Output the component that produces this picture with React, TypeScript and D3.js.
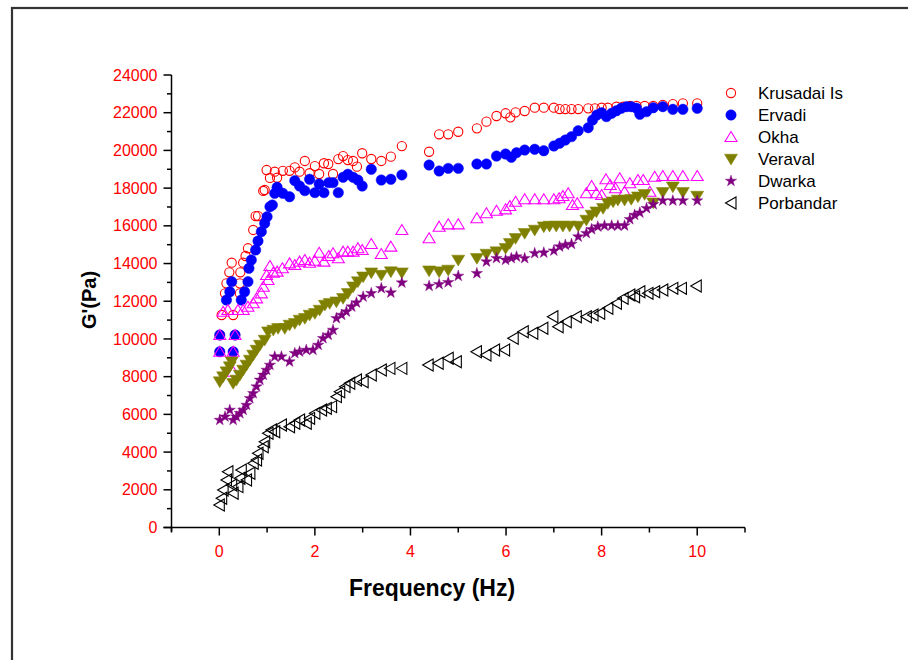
import React from "react";
import * as d3 from "d3";

// ---------- DATA (frequency in Hz, G' in Pa) ----------
const xTicks = [0, 2, 4, 6, 8, 10];
const yTicks = [0, 2000, 4000, 6000, 8000, 10000, 12000, 14000, 16000, 18000, 20000, 22000, 24000];
const seriesNames = ["Krusadai Is", "Ervadi", "Okha", "Veraval", "Dwarka", "Porbandar"];

const krusadai: [number, number][] = [
  [0.01, 9320], [0.01, 10210], [0.05, 11270], [0.12, 12420], [0.15, 12950], [0.21, 13535], [0.26, 14045],
  [0.29, 9320], [0.33, 10210], [0.29, 11270], [0.43, 12420], [0.43, 12950], [0.44, 13535], [0.5, 14045],
  [0.55, 14400], [0.6, 14810], [0.71, 15780], [0.76, 16520], [0.81, 16520], [0.92, 17850], [0.95, 17900],
  [0.99, 18960], [1.06, 18540], [1.16, 18870], [1.21, 18550], [1.33, 18920], [1.47, 18920], [1.58, 19100],
  [1.68, 18870], [1.79, 19440], [1.89, 18790], [2.0, 19170], [2.09, 18750], [2.19, 19320], [2.28, 19280],
  [2.38, 18750], [2.49, 19540], [2.59, 19700], [2.69, 19490], [2.8, 19440], [2.88, 19140], [2.99, 19850],
  [3.18, 19545], [3.39, 19440], [3.59, 19670], [3.82, 20230],
  [4.39, 19930], [4.6, 20855], [4.79, 20855], [5.0, 20990], [5.39, 21170], [5.59, 21525], [5.8, 21825],
  [5.99, 21970], [6.09, 21755], [6.2, 22020], [6.39, 22090], [6.6, 22265], [6.79, 22265], [7.0, 22265],
  [7.12, 22195], [7.24, 22195], [7.37, 22195], [7.51, 22195], [7.72, 22230], [7.86, 22230], [8.0, 22265],
  [8.13, 22265], [8.31, 22320], [8.45, 22320], [8.59, 22355], [8.73, 22355], [8.9, 22355], [9.08, 22355],
  [9.28, 22410], [9.49, 22460], [9.7, 22500], [10.0, 22500],
];

const ervadi: [number, number][] = [
  [0.01, 9320], [0.01, 10210], [0.15, 12065], [0.22, 12505], [0.26, 13040], [0.29, 9320], [0.33, 10210],
  [0.46, 12065], [0.53, 12505], [0.6, 13040], [0.62, 13750], [0.67, 14190], [0.76, 14720], [0.81, 15195],
  [0.88, 15690], [0.95, 16135], [1.0, 16485], [1.06, 17015], [1.11, 17105], [1.16, 17725], [1.21, 18045],
  [1.33, 17725], [1.47, 17545], [1.58, 18395], [1.68, 18110], [1.79, 17865], [1.89, 18470], [2.0, 17760],
  [2.09, 18220], [2.19, 17760], [2.29, 18290], [2.38, 18290], [2.49, 17760], [2.59, 18575], [2.69, 18735],
  [2.8, 18575], [2.9, 18430], [2.99, 18110], [3.18, 19000], [3.39, 18430], [3.59, 18470], [3.82, 18700],
  [4.39, 19225], [4.6, 18910], [4.79, 19050], [5.0, 19050], [5.39, 19280], [5.59, 19280], [5.8, 19700],
  [5.99, 19810], [6.11, 19635], [6.22, 19880], [6.39, 20020], [6.6, 20060], [6.79, 19985], [7.0, 20235],
  [7.12, 20380], [7.24, 20550], [7.37, 20730], [7.51, 21045], [7.72, 21205], [7.81, 21610], [7.9, 21880],
  [8.0, 22000], [8.1, 21790], [8.21, 21970], [8.31, 22105], [8.41, 22235], [8.52, 22320], [8.62, 22320],
  [8.73, 22235], [8.8, 21915], [8.94, 22055], [9.08, 22265], [9.28, 22320], [9.49, 22180], [9.7, 22180],
  [10.0, 22235],
];

const okha: [number, number][] = [
  [0.01, 9320], [0.01, 10210], [0.29, 9320], [0.33, 10210], [0.29, 8260], [0.08, 11445], [0.18, 11535],
  [0.39, 11535], [0.5, 11535], [0.6, 11710], [0.71, 11890], [0.78, 12155], [0.88, 12420], [0.92, 12770],
  [1.02, 13125], [0.99, 13390], [1.06, 13870], [1.13, 13515], [1.21, 13570], [1.32, 13750], [1.47, 14010],
  [1.58, 13920], [1.68, 14100], [1.79, 14190], [1.89, 14045], [2.0, 14150], [2.09, 14575], [2.19, 14100],
  [2.29, 14400], [2.38, 14545], [2.49, 14280], [2.59, 14630], [2.69, 14630], [2.8, 14630], [2.9, 14810],
  [2.99, 14720], [3.18, 15035], [3.39, 14505], [3.59, 14895], [3.82, 15780],
  [4.39, 15340], [4.6, 15955], [4.79, 16080], [5.0, 16080], [5.39, 16400], [5.59, 16665], [5.8, 16800],
  [5.99, 16875], [6.08, 17050], [6.2, 17280], [6.39, 17410], [6.6, 17410], [6.79, 17410], [7.0, 17410],
  [7.11, 17460], [7.19, 17580], [7.3, 17725], [7.39, 17105], [7.49, 17195], [7.68, 17725], [7.79, 18110],
  [7.89, 17725], [8.0, 17635], [8.09, 18470], [8.18, 18165], [8.29, 17990], [8.38, 18520], [8.48, 17810],
  [8.59, 18255], [8.76, 18430], [8.87, 18430], [9.01, 17810], [9.11, 18605], [9.28, 18645], [9.49, 18645],
  [9.7, 18645], [10.0, 18645],
];

const veraval: [number, number][] = [
  [0.01, 7735], [0.08, 8000], [0.15, 8265], [0.22, 8530], [0.26, 8795], [0.29, 7650], [0.36, 7825],
  [0.43, 8090], [0.5, 8355], [0.57, 8620], [0.64, 8885], [0.71, 9150], [0.78, 9415], [0.85, 9680],
  [0.95, 9945], [1.02, 10385], [1.13, 10475], [1.23, 10565], [1.37, 10565], [1.47, 10740], [1.58, 10830],
  [1.68, 11005], [1.79, 11095], [1.89, 11270], [2.0, 11360], [2.1, 11535], [2.21, 11800], [2.31, 11890],
  [2.45, 11975], [2.59, 12155], [2.69, 12420], [2.8, 12770], [2.9, 13040], [3.01, 13300], [3.18, 13515],
  [3.39, 13390], [3.59, 13570], [3.82, 13515],
  [4.39, 13620], [4.6, 13570], [4.79, 13660], [5.0, 14190], [5.39, 14280], [5.59, 14505], [5.8, 14630],
  [5.99, 14810], [6.08, 15075], [6.2, 15340], [6.39, 15605], [6.6, 15780], [6.79, 15955], [6.91, 15990],
  [7.05, 15990], [7.19, 15990], [7.33, 15990], [7.51, 15990], [7.68, 16310], [7.79, 16575], [7.89, 16750],
  [8.03, 16930], [8.13, 17195], [8.24, 17280], [8.34, 17370], [8.48, 17370], [8.62, 17410], [8.76, 17545],
  [8.9, 17670], [9.08, 17225], [9.28, 17780], [9.49, 18075], [9.7, 17780], [10.0, 17580],
];

const dwarka: [number, number][] = [
  [0.01, 5700], [0.12, 5875], [0.22, 6230], [0.29, 5700], [0.36, 5875], [0.43, 6055], [0.5, 6230],
  [0.57, 6495], [0.64, 6850], [0.71, 7115], [0.78, 7470], [0.85, 7825], [0.92, 8090], [0.99, 8355],
  [1.06, 8620], [1.16, 9060], [1.3, 9060], [1.47, 8795], [1.58, 9240], [1.68, 9325], [1.82, 9415],
  [1.96, 9415], [2.07, 9680], [2.17, 10035], [2.28, 10210], [2.38, 10475], [2.45, 11095], [2.56, 11270],
  [2.66, 11445], [2.77, 11710], [2.87, 11925], [3.01, 12240], [3.18, 12420], [3.39, 12685], [3.59, 12455],
  [3.82, 12985],
  [4.39, 12810], [4.6, 12900], [4.79, 13005], [5.0, 13340], [5.39, 13480], [5.59, 14100], [5.8, 14280],
  [5.99, 14190], [6.11, 14280], [6.22, 14365], [6.39, 14280], [6.6, 14545], [6.79, 14575], [7.0, 14680],
  [7.12, 14895], [7.24, 14985], [7.37, 15035], [7.51, 15425], [7.68, 15605], [7.79, 15815], [7.92, 15955],
  [8.06, 16010], [8.21, 16010], [8.34, 16010], [8.48, 16010], [8.59, 16345], [8.69, 16575], [8.8, 16695],
  [8.94, 16930], [9.08, 17140], [9.28, 17335], [9.49, 17335], [9.7, 17335], [10.0, 17335],
];

const porbandar: [number, number][] = [
  [0.0, 1193], [0.05, 1549], [0.08, 1989], [0.15, 2519], [0.18, 2960], [0.26, 2254], [0.29, 1813],
  [0.39, 2166], [0.43, 2610], [0.46, 3050], [0.57, 2519], [0.64, 2875], [0.71, 3405], [0.78, 3580],
  [0.81, 3935], [0.92, 4285], [0.95, 4550], [1.02, 5000], [1.09, 5170], [1.16, 5080], [1.3, 5440],
  [1.47, 5346], [1.58, 5525], [1.68, 5700], [1.82, 5525], [1.89, 5790], [2.0, 6055], [2.14, 6230],
  [2.24, 6320], [2.35, 6410], [2.45, 6940], [2.52, 7200], [2.63, 7470], [2.73, 7650], [2.87, 7820],
  [3.01, 7730], [3.18, 8090], [3.39, 8350], [3.57, 8440], [3.82, 8440],
  [4.37, 8620], [4.58, 8710], [4.79, 8975], [4.96, 8795], [5.38, 9325], [5.58, 9150], [5.76, 9415],
  [5.97, 9415], [6.15, 10035], [6.36, 10385], [6.56, 10300], [6.77, 10565], [6.98, 11180], [7.09, 10650],
  [7.26, 10915], [7.47, 11180], [7.68, 11180], [7.82, 11270], [7.96, 11360], [8.13, 11625], [8.31, 11890],
  [8.45, 12155], [8.59, 12330], [8.69, 12240], [8.8, 12505], [8.97, 12420], [9.11, 12505], [9.28, 12600],
  [9.49, 12685], [9.67, 12685], [9.98, 12810],
];

const allSeries = [krusadai, ervadi, okha, veraval, dwarka, porbandar];

// ---------- STYLE ----------
const FONT = "'Liberation Sans', Arial, Helvetica, sans-serif";
const markerStyles = [
  { kind: "circle", fill: "none", stroke: "#FF0000" },
  { kind: "circle", fill: "#0000FF", stroke: "#0000FF" },
  { kind: "up", fill: "none", stroke: "#FF00FF" },
  { kind: "down", fill: "#808000", stroke: "#808000" },
  { kind: "star", fill: "#800080", stroke: "#800080" },
  { kind: "left", fill: "none", stroke: "#000000" },
];

const starPath = d3.symbol().type(d3.symbolStar).size(40)() as string;

function Marker({ kind, fill, stroke, cx, cy }: any) {
  const t = `translate(${cx},${cy})`;
  if (kind === "circle") {
    const filled = fill !== "none";
    return <circle cx={cx} cy={cy} r={filled ? 5.2 : 4.6} fill={fill} stroke={stroke} strokeWidth={filled ? 0.5 : 1.1} />;
  }
  if (kind === "up") return <path transform={t} d="M0,-5.5L6,4.5L-6,4.5Z" fill="none" stroke={stroke} strokeWidth={1.1} />;
  if (kind === "down") return <path transform={t} d="M-6.5,-4.8L6.5,-4.8L0,6Z" fill={fill} stroke={stroke} strokeWidth={0.5} />;
  if (kind === "left") return <path transform={t} d="M-5.5,0L5,-6L5,6Z" fill="none" stroke={stroke} strokeWidth={1.1} />;
  return <path transform={t} d={starPath} fill={fill} stroke={stroke} strokeWidth={0.4} />;
}

export default function App() {
  const W = 908, H = 660;
  const x = d3.scaleLinear().domain([-1, 11]).range([171.5, 745]);
  const y = d3.scaleLinear().domain([0, 24000]).range([527.5, 75]);
  const xMinor = d3.range(-1, 12, 1).filter((v) => v % 2 !== 0);
  const yMinor = d3.range(1000, 24000, 2000);

  return (
    <svg width={W} height={H} style={{ position: "absolute", left: 0, top: 0, background: "#fff" }} fontFamily={FONT}>
      <rect x={0} y={0} width={W} height={H} fill="#fff" />
      {/* frame */}
      <rect x={12} y={8} width={W + 20} height={H + 20} fill="none" stroke="#333" strokeWidth={2.2} />

      {/* y axis */}
      <line x1={x(-1)} x2={x(-1)} y1={y(24000)} y2={y(0) + 4} stroke="#000" strokeWidth={1.5} />
      {yTicks.map((t) => (
        <g key={"yt" + t}>
          <line x1={x(-1) - 8} x2={x(-1)} y1={y(t)} y2={y(t)} stroke="#000" strokeWidth={1.5} />
          <text x={x(-1) - 14} y={y(t) + 5.6} textAnchor="end" fill="#FF0000" fontSize={16}>{t}</text>
        </g>
      ))}
      {yMinor.map((t) => (
        <line key={"ym" + t} x1={x(-1) - 4.5} x2={x(-1)} y1={y(t)} y2={y(t)} stroke="#000" strokeWidth={1.5} />
      ))}

      {/* x axis */}
      <line x1={x(-1) - 8} x2={x(11)} y1={y(0)} y2={y(0)} stroke="#000" strokeWidth={1.5} />
      {xTicks.map((t) => (
        <g key={"xt" + t}>
          <line x1={x(t)} x2={x(t)} y1={y(0)} y2={y(0) + 8} stroke="#000" strokeWidth={1.5} />
          <text x={x(t)} y={y(0) + 29} textAnchor="middle" fill="#FF0000" fontSize={16}>{t}</text>
        </g>
      ))}
      {xMinor.map((t) => (
        <line key={"xm" + t} x1={x(t)} x2={x(t)} y1={y(0)} y2={y(0) + 5} stroke="#000" strokeWidth={1.5} />
      ))}

      {/* axis titles */}
      <text x={432} y={596} textAnchor="middle" fontSize={23} fontWeight="bold" fill="#000">Frequency (Hz)</text>
      <text transform="translate(96,300) rotate(-90)" textAnchor="middle" fontSize={20} fontWeight="bold" fill="#000">G'(Pa)</text>

      {/* data */}
      {allSeries.map((s, i) => (
        <g key={"s" + i}>
          {s.map(([f, g], j) => (
            <Marker key={j} {...markerStyles[i]} cx={x(f)} cy={y(g)} />
          ))}
        </g>
      ))}

      {/* legend */}
      {seriesNames.map((name, i) => (
        <g key={"lg" + i}>
          <Marker {...markerStyles[i]} cx={731} cy={93 + 22 * i} />
          <text x={758} y={93 + 22 * i + 6} fontSize={17} fill="#000">{name}</text>
        </g>
      ))}
    </svg>
  );
}
